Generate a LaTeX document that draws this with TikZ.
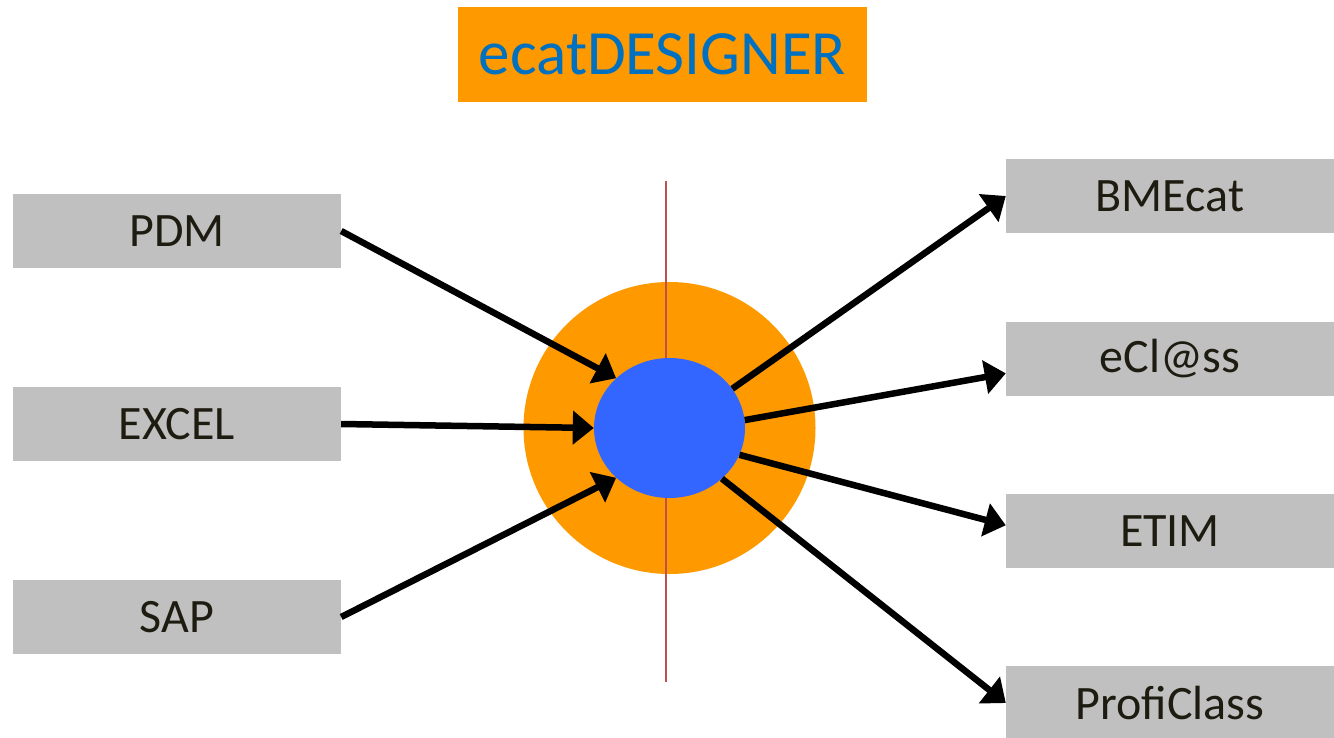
\documentclass[tikz,border=0pt]{standalone}
\usepackage{fontspec}
\setmainfont{Carlito}
\usetikzlibrary{arrows.meta}
\usetikzlibrary{shapes.geometric}
\definecolor{ecatorange}{HTML}{FF9900}
\definecolor{ecatblue}{HTML}{0070C0}
\definecolor{coreblue}{HTML}{3366FF}
\definecolor{boxgray}{HTML}{C0C0C0}
\definecolor{boxtext}{HTML}{1E1C11}
\definecolor{axisred}{HTML}{C0504D}

\begin{document}
\begin{tikzpicture}[x=1pt, y=-1pt,
  srcbox/.style={rectangle, fill=boxgray, minimum width=328pt, minimum height=74pt, inner sep=0pt, text=boxtext, font=\fontsize{48}{52}\selectfont},
  flow/.style={line width=6.5pt, -{Triangle[length=21pt, width=33pt]}}]
\useasboundingbox (0,0) rectangle (1334,737);

\node[fill=ecatorange, minimum width=409pt, minimum height=95pt, inner sep=0pt, text=ecatblue, font=\fontsize{63}{67}\selectfont] (title) at (662.5,54.5) {ecatDESIGNER};

\foreach \name/\txt/\y in {pdm/PDM/231, excel/EXCEL/424, sap/SAP/617}
\node[srcbox] (\name) at (177,\y) {\txt};

\foreach \name/\txt/\y in {bmecat/BMEcat/196, eclass/eCl@ss/359, etim/ETIM/531, proficlass/ProfiClass/703}
\node[srcbox] (\name) at (1170,\y) {\txt};

\node[circle, fill=ecatorange, minimum size=292pt, inner sep=0pt] (ring) at (669.5,428) {};
\draw[axisred, line width=1.5pt] (666,181) -- (666,682);
\node[ellipse, fill=coreblue, minimum width=151pt, minimum height=140pt, inner sep=0pt] (core) at (669.5,428) {};

\draw[flow] (pdm.east) -- (core.137);
\draw[flow] (excel.east) -- (core.west);
\draw[flow] (sap.east) -- (core.223);
\draw[flow] (core.32) -- (bmecat.west);
\draw[flow] (core.6) -- (eclass.185);
\draw[flow] (core.-21) -- (etim.178);
\draw[flow] (core.-44) -- (proficlass.west);

\end{tikzpicture}
\end{document}
